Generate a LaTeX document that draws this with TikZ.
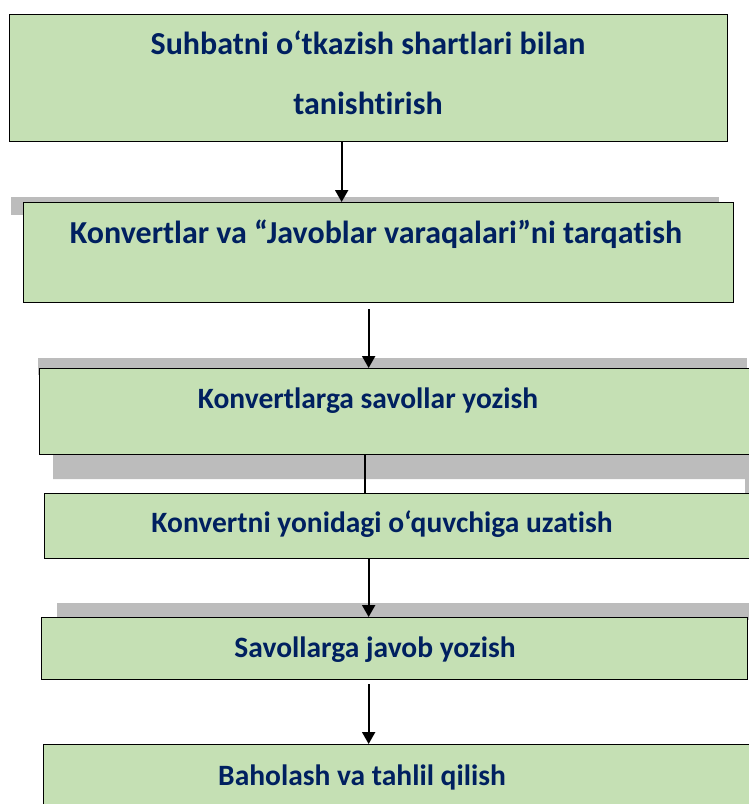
\documentclass[tikz,border=0pt]{standalone}
\usepackage{fontspec}
\setmainfont{Carlito}[Ligatures={TeX,NoCommon}]
\usetikzlibrary{arrows.meta, positioning, calc, backgrounds}
\definecolor{boxgreen}{HTML}{C5E0B4}
\definecolor{navy}{HTML}{002060}
\definecolor{shade}{RGB}{188,188,188}

\begin{document}
\begin{tikzpicture}[x=1pt, y=1pt,
      box/.style={rectangle, draw=black, line width=1.3pt, fill=boxgreen,
                  anchor=north west, inner sep=0pt},
      txt/.style={anchor=base, text=navy, inner sep=0pt,
                  font=\bfseries\fontsize{29.5}{34}\selectfont},
      big/.style={txt, font=\bfseries\fontsize{32}{36}\selectfont},
      bar/.style={fill=shade, draw=none},
      arr/.style={-{Triangle[width=13pt, length=12pt]}, line width=2pt, black},
      ]
    \useasboundingbox (0,0) rectangle (748,-804);

    % steps, top to bottom
    \node[box, minimum width=718, minimum height=127,
          label={[big, xshift=359, yshift=-40]north west:Suhbatni o‘tkazish shartlari bilan},
          label={[big, xshift=359, yshift=-100]north west:tanishtirish}] (intro) at (9,-14) {};
    \node[box, minimum width=710, minimum height=100,
          label={[big, xshift=353, yshift=-41]north west:Konvertlar va “Javoblar varaqalari”ni tarqatish}] (hand) at (23,-202) {};
    \node[box, minimum width=725, minimum height=86,
          label={[txt, xshift=329, yshift=-40]north west:Konvertlarga savollar yozish}] (ask) at (39,-368) {};
    \node[box, minimum width=720, minimum height=65,
          label={[txt, xshift=338, yshift=-39]north west:Konvertni yonidagi o‘quvchiga uzatish}] (pass) at (44,-493) {};
    \node[box, minimum width=706, minimum height=62,
          label={[txt, xshift=334, yshift=-40]north west:Savollarga javob yozish}] (answer) at (41,-617) {};
    \node[box, minimum width=720, minimum height=80,
          label={[txt, xshift=319, yshift=-41]north west:Baholash va tahlil qilish}] (grade) at (43,-744) {};

    % grey strips behind the boxes
    \begin{scope}[on background layer]
      \fill[bar] (11,-197) rectangle (719,-215);
      \fill[bar] (38,-358) rectangle (747,-375);
      \fill[bar] (53,-454) -- (770,-454) -- (770,-494) -- (745,-494)
                 -- (745,-479) -- (53,-479) -- cycle;
      \fill[bar] (57,-603) rectangle (770,-620);
      \draw[arr] ([xshift=-37.5]ask.south) -- ([xshift=-37.5, yshift=-12]ask.south |- pass.north);
    \end{scope}

    \draw[arr] ([xshift=-27]intro.south) -- ([xshift=-27]intro.south |- hand.north);
    \draw[arr] ([xshift=-10, yshift=-6]hand.south) -- ([xshift=-10]hand.south |- ask.north);
    \draw[arr] ([xshift=-36]pass.south) -- ([xshift=-36]pass.south |- answer.north);
    \draw[arr] ([xshift=-26, yshift=-4]answer.south) -- ([xshift=-26]answer.south |- grade.north);
  \end{tikzpicture}
\end{document}
